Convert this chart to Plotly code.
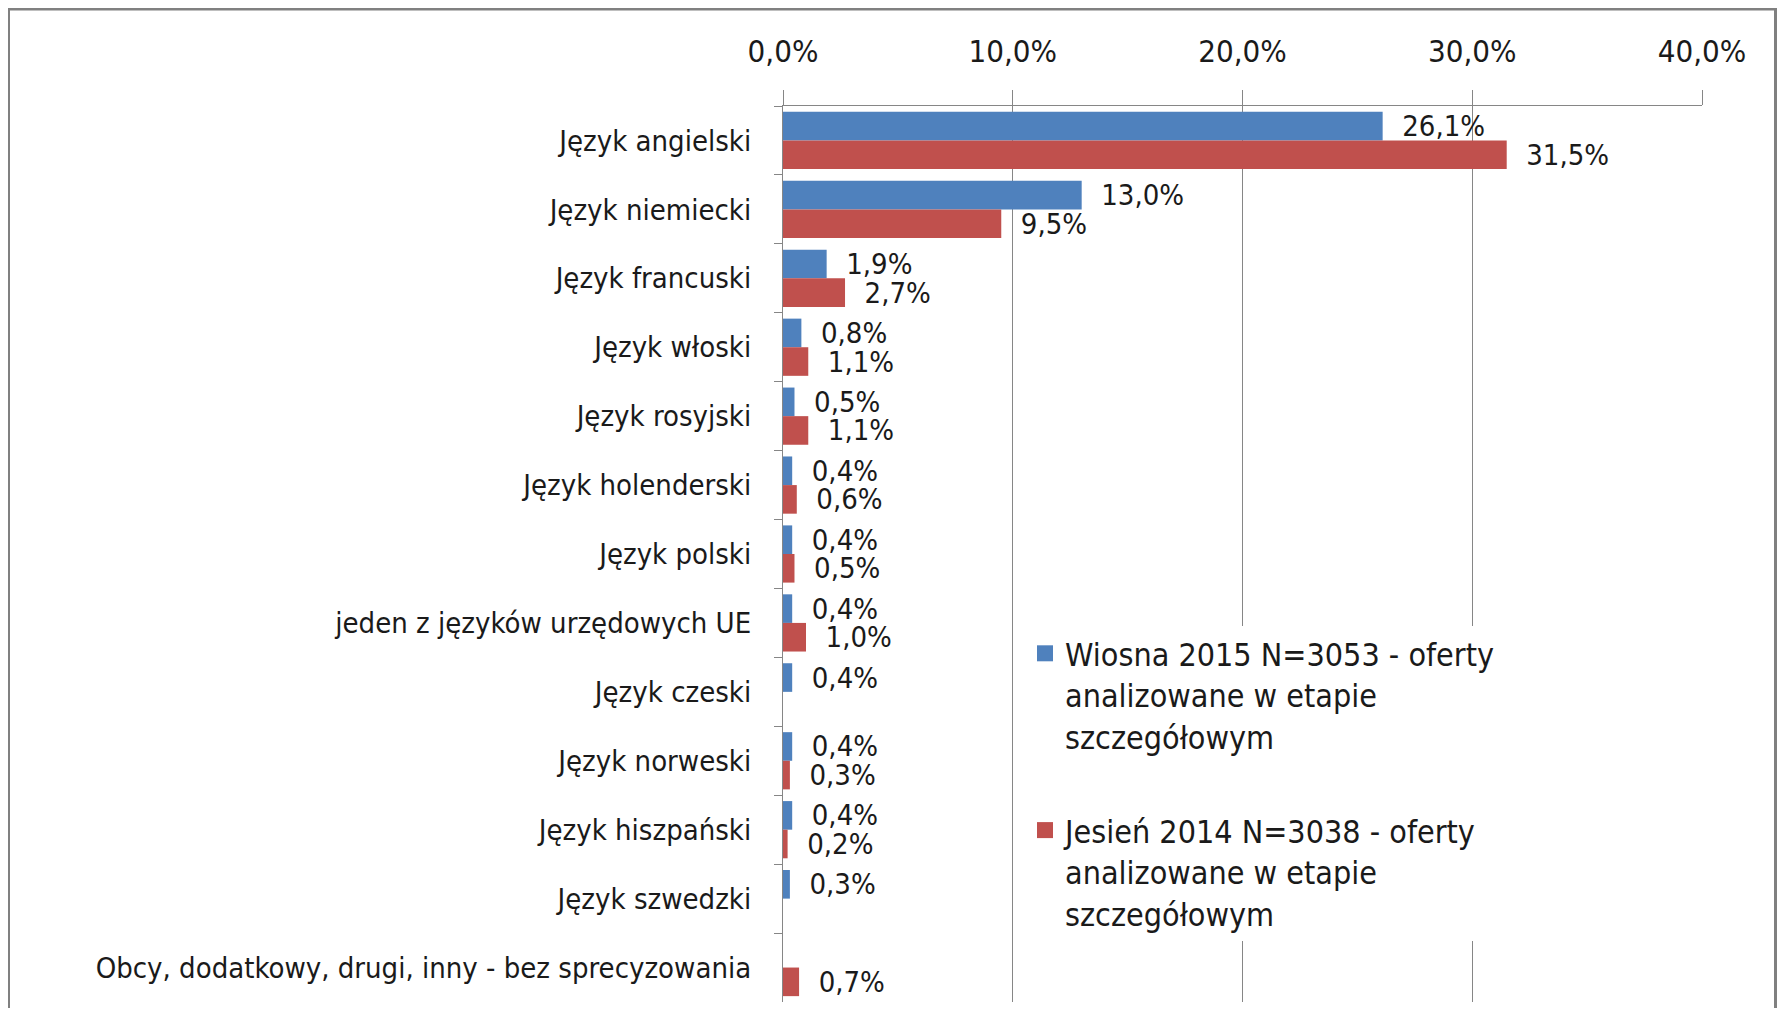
import plotly.graph_objects as go

categories = [
    "Język angielski", "Język niemiecki", "Język francuski", "Język włoski",
    "Język rosyjski", "Język holenderski", "Język polski",
    "jeden z języków urzędowych UE", "Język czeski", "Język norweski",
    "Język hiszpański", "Język szwedzki",
    "Obcy, dodatkowy, drugi, inny - bez sprecyzowania",
]
spring_2015 = [26.1, 13.0, 1.9, 0.8, 0.5, 0.4, 0.4, 0.4, 0.4, 0.4, 0.4, 0.3, None]
autumn_2014 = [31.5, 9.5, 2.7, 1.1, 1.1, 0.6, 0.5, 1.0, None, 0.3, 0.2, None, 0.7]
series_names = [
    "Wiosna 2015 N=3053 - oferty<br>analizowane w etapie<br>szczegółowym",
    "Jesień 2014 N=3038 - oferty<br>analizowane w etapie<br>szczegółowym",
]
x_ticks = [0, 10, 20, 30, 40]
x_tick_labels = ["0,0%", "10,0%", "20,0%", "30,0%", "40,0%"]

FONT = "Liberation Sans Narrow, DejaVu Sans Condensed, Arial Narrow, sans-serif"
BLUE = "#4F81BD"
RED = "#C0504D"
GRID = "#868686"

# page has an 8px body margin; all pixel positions below are figure coords
W, H = 1769, 1000
L, R, T, B = 775, 1694, 98, 994

fig = go.Figure()
for vals, name, color, grp in [(spring_2015, series_names[0], BLUE, "a"),
                               (autumn_2014, series_names[1], RED, "b")]:
    fig.add_trace(go.Bar(
        y=categories, x=vals, orientation="h", name=name,
        marker=dict(color=color, line=dict(width=0)),
        texttemplate="\u00a0\u00a0%{x:.1f}%", textposition="outside",
        constraintext="none",
        textfont=dict(family=FONT, size=29, color="#1a1a1a"),
        cliponaxis=False, legendgroup=grp, showlegend=False,
    ))
    # legend entry with a larger square swatch, like the original
    fig.add_trace(go.Scatter(
        x=[None], y=[None], mode="markers", name=name,
        marker=dict(symbol="square", size=20, color=color),
        legendgroup=grp, showlegend=True, hoverinfo="skip",
    ))

pw, ph = R - L, B - T
def px_x(v):
    return (v - L) / pw
def px_y(v):
    return 1 - (v - T) / ph

fig.update_layout(
    width=W, height=H,
    margin=dict(l=L, r=W - R, t=T, b=H - B, pad=0),
    paper_bgcolor="white", plot_bgcolor="white",
    separators=", ",
    barmode="group", bargap=0.17, bargroupgap=0,
    font=dict(family=FONT, size=29, color="#1a1a1a"),
    showlegend=True,
    legend=dict(
        x=px_x(1017), y=px_y(618),
        xanchor="left", yanchor="top", valign="top",
        bgcolor="white", borderwidth=0,
        font=dict(family=FONT, size=32, color="#1a1a1a"),
        tracegroupgap=49, itemsizing="trace",
    ),
    xaxis=dict(
        side="top", range=[0, 40], tickvals=x_ticks, ticktext=x_tick_labels,
        showgrid=True, gridcolor=GRID, gridwidth=1,
        showline=True, linecolor=GRID, linewidth=1,
        ticks="outside", ticklen=15, tickcolor=GRID,
        ticklabelstandoff=16, zeroline=False,
        tickfont=dict(family=FONT, size=31),
    ),
    yaxis=dict(
        autorange="reversed", showgrid=False,
        showline=True, linecolor=GRID, linewidth=1,
        ticks="outside", ticklen=8, tickcolor=GRID, tickson="boundaries",
        ticklabelstandoff=25,
        tickfont=dict(family=FONT, size=29),
    ),
)

# outer frame (left, top, right edges visible in the original)
fig.add_shape(type="rect", xref="paper", yref="paper",
              x0=px_x(0.5), x1=px_x(W - 1.5), y0=px_y(1.0), y1=px_y(H + 30),
              line=dict(color="#808080", width=3), fillcolor="rgba(0,0,0,0)",
              layer="above")

fig.write_html("out.html")
